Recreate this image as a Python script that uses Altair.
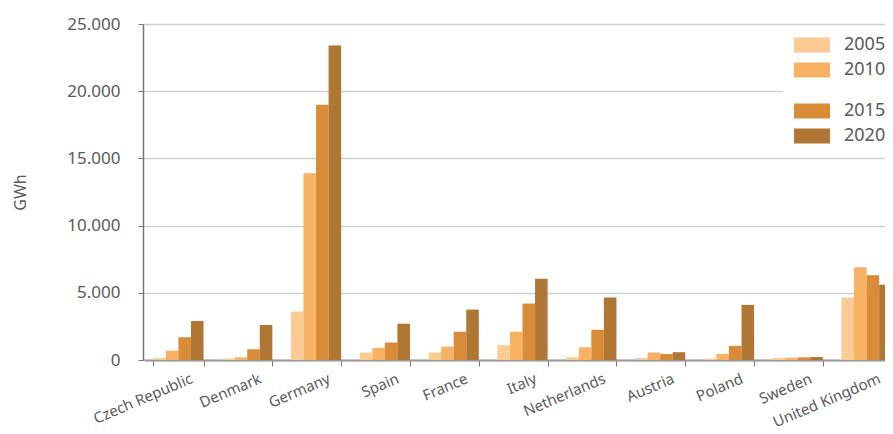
import altair as alt
import pandas as pd

countries = ["Czech Republic", "Denmark", "Germany", "Spain", "France", "Italy",
             "Netherlands", "Austria", "Poland", "Sweden", "United Kingdom"]
years = ["2005", "2010", "2015", "2020"]
v2005 = [150, 100, 3600, 550, 550, 1100, 200, 150, 100, 150, 4650]
v2010 = [700, 200, 13900, 900, 1000, 2100, 950, 550, 450, 170, 6900]
v2015 = [1700, 800, 19000, 1300, 2100, 4200, 2250, 450, 1050, 200, 6300]
v2020 = [2900, 2600, 23400, 2700, 3750, 6050, 4650, 580, 4100, 220, 5600]
colors = ["#FBCB93", "#F7B263", "#D98C38", "#B07634"]
y_ticks = [0, 5000, 10000, 15000, 20000, 25000]

rows = []
for yr, vals in zip(years, [v2005, v2010, v2015, v2020]):
    for c, v in zip(countries, vals):
        rows.append({"country": c, "year": yr, "value": v})
df = pd.DataFrame(rows)

FONT = "Noto Sans"
TXT = "#5a5a5a"

base = alt.Chart(df).encode(
    x=alt.X("country:N", sort=countries,
            scale=alt.Scale(range=[1, 758], paddingInner=0.27, paddingOuter=0.135),
            axis=alt.Axis(title=None, tickBand="extent", labelAngle=-23,
                          labelAlign="right", labelBaseline="top", labelOffset=10,
                          labelPadding=5, tickSize=6, tickColor="#777",
                          domainColor="#999", domainWidth=2, labelFontSize=15,
                          labelFont=FONT, labelColor=TXT, grid=False)),
    xOffset=alt.XOffset("year:N", scale=alt.Scale(domain=years)),
    y=alt.Y("value:Q", scale=alt.Scale(domain=[0, 25000]),
            axis=alt.Axis(values=y_ticks,
                          labelExpr="replace(format(datum.value, ','), ',', '.')",
                          grid=True, gridColor="#d0d0d0", gridWidth=1.5,
                          domainColor="#777", domainWidth=1.5, tickColor="#777",
                          tickSize=5, labelPadding=18, labelFontSize=17,
                          labelFont=FONT, labelColor=TXT, title="GWh",
                          titleFontSize=16, titleFont=FONT, titleFontWeight="normal",
                          titleColor=TXT, titleX=-123, titleY=168,
                          titleAlign="center", titleBaseline="middle")),
)


def legend(y, pad, off):
    return alt.Legend(orient="none", legendX=640, legendY=y, title=None,
                      symbolType="M-2,-0.84H2V0.84H-2Z", symbolSize=324,
                      symbolOffset=off,
                      padding=pad, fillColor="white", labelFontSize=18,
                      labelColor=TXT, labelFont=FONT, rowPadding=7,
                      labelOffset=23, symbolStrokeWidth=0, symbolOpacity=1,
                      labelLimit=300)


layer1 = base.transform_filter(
    alt.FieldOneOfPredicate(field="year", oneOf=years[:2])
).mark_bar().encode(
    color=alt.Color("year:N", scale=alt.Scale(domain=years[:2], range=colors[:2]),
                    legend=legend(2, 10, 10)))

layer2 = base.transform_filter(
    alt.FieldOneOfPredicate(field="year", oneOf=years[2:])
).mark_bar().encode(
    color=alt.Color("year:N", scale=alt.Scale(domain=years[2:], range=colors[2:]),
                    legend=legend(66, 12, 8)))

chart = alt.layer(layer1, layer2).resolve_scale(color="independent").properties(
    width=742, height=336,
    autosize=alt.AutoSizeParams(type="none"),
    padding={"left": 135, "top": 16, "right": 0, "bottom": 66},
).configure_view(stroke=None)

chart.save("out.html", embed_options={"renderer": "svg", "actions": False})
